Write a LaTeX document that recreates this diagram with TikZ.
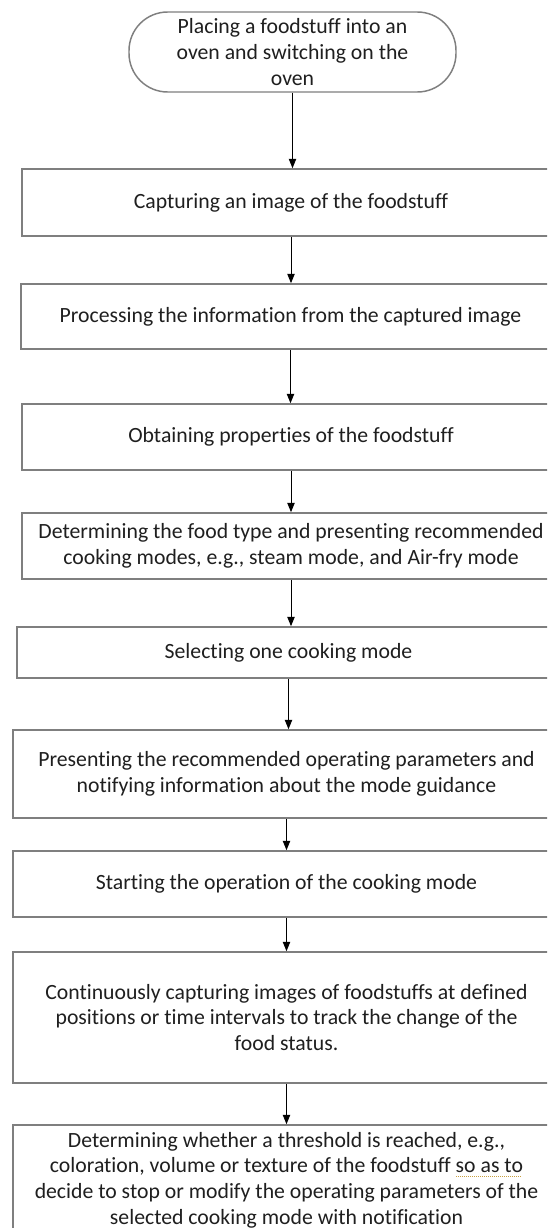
\documentclass[tikz,border=0pt]{standalone}
\usepackage{fontspec}
\setmainfont{Carlito}[Ligatures={NoCommon,NoContextual}, RawFeature={-liga;-clig;-calt}]
\usetikzlibrary{arrows.meta,positioning}
\definecolor{boxgray}{HTML}{7F7F7F}
\definecolor{squiggle}{HTML}{C8A040}
% dotted grammar mark under a few words
\newcommand{\gramline}[1]{\setbox0\hbox{#1}\rlap{\copy0}{\color{squiggle}\raisebox{-3pt}{\hbox to \wd0{\leaders\hbox to 1.5pt{\rule{0.75pt}{0.75pt}\hss}\hfill}}}}
\tikzset{
  font=\fontsize{16.3}{19.3}\selectfont,
  px/.style={x=0.75pt, y=-0.75pt},
  term/.style={
    draw=boxgray,
    line width=1.1pt,
    rounded corners=29pt,
    align=center,
    minimum width=245.25pt,
    minimum height=60pt,
    inner sep=2pt,
    text=black!88
  },
  box/.style={
    draw=boxgray,
    line width=1.2pt,
    align=center,
    inner sep=2pt,
    text=black!88
  },
  arrow/.style={-{Triangle[width=5.5pt,length=7pt]}, line width=0.75pt}
}

\begin{document}
\begin{tikzpicture}[px]

\path[use as bounding box, clip] (0,0) rectangle (547,1228);
\fill[white] (0,0) rectangle (547,1228);

\node[term] (start) at (292.5,52) {Placing a foodstuff into an\\oven and switching on the\\oven};

% --- boxes run past the right edge of the page ---
\node[box, minimum width=403.5pt, minimum height=50.25pt] (capture) at (291,202.5)
  {Capturing an image of the foodstuff};
\node[box, minimum width=404.25pt, minimum height=48.75pt] (process) at (290.5,316.5)
  {Processing the information from the captured image};
\node[box, minimum width=403.5pt, minimum height=49.5pt] (props) at (291,437)
  {Obtaining properties of the foodstuff};
\node[box, minimum width=403.5pt, minimum height=49.5pt] (foodtype) at (291,546)
  {Determining the food type and presenting recommended\\cooking modes, e.g., steam mode, and Air-fry mode};
\node[box, minimum width=407.25pt, minimum height=38.25pt] (select) at (288.5,652.5)
  {Selecting one cooking mode};
\node[box, minimum width=410.25pt, minimum height=66pt] (params) at (286.5,774)
  {Presenting the recommended operating parameters and\\notifying information about the mode guidance};
\node[box, minimum width=410.25pt, minimum height=49.5pt] (operate) at (286.5,884)
  {Starting the operation of the cooking mode};
\node[box, minimum width=410.25pt, minimum height=98.25pt] (track) at (286.5,1017.5)
  {Continuously capturing images of foodstuffs at defined\\positions or time intervals to track the change of the\\food status.};
\node[box, minimum width=410.25pt, minimum height=82.5pt] (decide) at (286.5,1180)
  {Determining whether a threshold is reached, e.g.,\\coloration, volume or texture of the foodstuff
   \gramline{so as to}\\decide to stop or modify the operating parameters of the\\selected cooking mode with notification};

\draw[arrow] (start.south) -- (start.south |- capture.north);
\draw[arrow] (capture.south) -- (capture.south |- process.north);
\draw[arrow] (process.south) -- (process.south |- props.north);
\draw[arrow] (props.south) -- (props.south |- foodtype.north);
\draw[arrow] (foodtype.south) -- (foodtype.south |- select.north);
\draw[arrow] (select.south) -- (select.south |- params.north);
\draw[arrow] (params.south) -- (params.south |- operate.north);
\draw[arrow] (operate.south) -- (operate.south |- track.north);
\draw[arrow] (track.south) -- (track.south |- decide.north);

\end{tikzpicture}
\end{document}
